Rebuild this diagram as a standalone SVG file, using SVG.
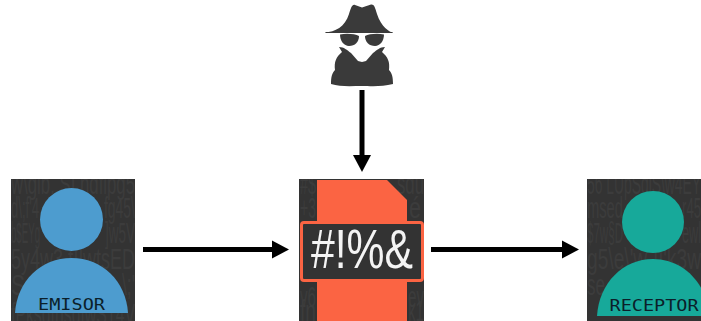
<svg xmlns="http://www.w3.org/2000/svg" width="701" height="321" viewBox="0 0 701 321">
<style>
.panel{fill:#333333}
.bg{font-family:"Liberation Sans",sans-serif;font-size:30px;fill:#3c3c3c}
.lab{font-family:"DejaVu Sans Mono","Liberation Mono",monospace;font-size:16px;fill:#0b1f2a;text-anchor:middle}
.line{stroke:#000;stroke-width:5;fill:none}
</style>
<defs>
<clipPath id="cl"><rect x="11" y="179" width="124" height="142"/></clipPath>
<clipPath id="cc"><rect x="299" y="179" width="125" height="142"/></clipPath>
<clipPath id="cr"><rect x="587" y="179" width="114" height="142"/></clipPath>
</defs>
<rect width="701" height="321" fill="#fff"/>
<g id="emisor">
<rect class="panel" x="11" y="179" width="124" height="142"/>
<g clip-path="url(#cl)" class="bg">
<text x="11" y="194" textLength="124" lengthAdjust="spacingAndGlyphs">w\gib..SI ndflpg5</text>
<text x="11" y="218" textLength="28" lengthAdjust="spacingAndGlyphs">d\;f'4</text>
<text x="104" y="218" textLength="31" lengthAdjust="spacingAndGlyphs">fg45\</text>
<text x="11" y="243" textLength="29" lengthAdjust="spacingAndGlyphs">b$EYg</text>
<text x="105" y="243" textLength="30" lengthAdjust="spacingAndGlyphs">]w5V</text>
<text x="11" y="269" textLength="124" lengthAdjust="spacingAndGlyphs">5y4w3 f]]wtsED</text>
<text x="11" y="295" textLength="14" lengthAdjust="spacingAndGlyphs">S</text>
<text x="122" y="295" textLength="13" lengthAdjust="spacingAndGlyphs">\;'</text>
<text x="11" y="324" textLength="124" lengthAdjust="spacingAndGlyphs">fPksdfnsdfwS14V</text>
</g>
<circle cx="71.500" cy="219.500" r="31.500" fill="#4d9ccf"/>
<path d="M15 313C17 281 41 258 71.500 258C102 258 126 281 128 313Z" fill="#4d9ccf"/>
<text class="lab" x="71.500" y="310" textLength="67" lengthAdjust="spacingAndGlyphs">EMISOR</text>
</g>
<g id="mensaje">
<rect class="panel" x="299" y="179" width="125" height="142"/>
<g clip-path="url(#cc)" class="bg">
<text x="300" y="194" textLength="16" lengthAdjust="spacingAndGlyphs">#$</text>
<text x="397" y="194" textLength="27" lengthAdjust="spacingAndGlyphs">sdu</text>
<text x="300" y="218" textLength="16" lengthAdjust="spacingAndGlyphs">+3</text>
<text x="409" y="218" textLength="12" lengthAdjust="spacingAndGlyphs">é</text>
<text x="300" y="307" textLength="16" lengthAdjust="spacingAndGlyphs">v6</text>
<text x="408" y="307" textLength="16" lengthAdjust="spacingAndGlyphs">ev</text>
<text x="300" y="321" textLength="16" lengthAdjust="spacingAndGlyphs">fn</text>
<text x="408" y="321" textLength="16" lengthAdjust="spacingAndGlyphs">k1</text>
</g>
<path d="M317 180H387L407 200V321H317Z" fill="#fb6443"/>
<rect x="301.500" y="222.500" width="121" height="58" rx="2.500" fill="#333333" stroke="#fb6443" stroke-width="3"/>
<text x="362" y="268" font-family="'Liberation Sans',sans-serif" font-size="56" fill="#f4f4f4" text-anchor="middle" textLength="102" lengthAdjust="spacingAndGlyphs">#!%&amp;</text>
</g>
<g id="receptor">
<rect class="panel" x="587" y="179" width="114" height="142"/>
<g clip-path="url(#cr)" class="bg">
<text x="587" y="194" textLength="114" lengthAdjust="spacingAndGlyphs">56 LUpSdlS\w4EY</text>
<text x="587" y="218" textLength="36" lengthAdjust="spacingAndGlyphs">msed</text>
<text x="682" y="218" textLength="19" lengthAdjust="spacingAndGlyphs">r45</text>
<text x="587" y="243" textLength="36" lengthAdjust="spacingAndGlyphs">$7w§D</text>
<text x="682" y="243" textLength="19" lengthAdjust="spacingAndGlyphs">ewl</text>
<text x="587" y="269" textLength="114" lengthAdjust="spacingAndGlyphs">g5\e\'w ]]'k3w</text>
<text x="587" y="295" textLength="18" lengthAdjust="spacingAndGlyphs">se</text>
</g>
<circle cx="653" cy="222" r="31" fill="#17a99a"/>
<path d="M597 316C599 283 623 259 653 259C683 259 707 283 709 316Z" fill="#17a99a"/>
<text class="lab" x="654" y="311" textLength="89" lengthAdjust="spacingAndGlyphs">RECEPTOR</text>
</g>
<g id="espia" fill="#3a3a3a">
<path d="M325 32.500C335 32 345 27 349 14C351 8 352 4 355 5L362 7.500L371 4.500C374 4 375 7 377 14C381 27 390 32 392 32.500L393 33H331Z"/>
<path d="M325 32H392L393 33H326Z"/>
<path d="M340 34.500C347 33 355 34 359 36C359 42 355 46 349 46C344 46 340 41 340 34.500Z"/>
<path d="M384 34.500C377 33 369 34 365 36C365 42 369 46 375 46C380 46 384 41 384 34.500Z"/>
<path d="M339 47C344 47 347 50 351 53L358 61L362 62L366 61L373 53C377 50 380 47 385 47L382 52C388 57 390 62 389 70C392 73 393 77 393 84C382 87 370 86 362 86C352 86 340 87 331 84C331 77 332 73 335 70C334 62 336 57 342 52Z"/>
</g>
<g id="conectores">
<path class="line" d="M143 249.500H275"/>
<path d="M272 240.500L289 249.500L272 258.500Z"/>
<path class="line" d="M431 249.500H565"/>
<path d="M562 240.500L579 249.500L562 258.500Z"/>
<path class="line" d="M362 90V158"/>
<path d="M353 155L362 172L371 155Z"/>
</g>
</svg>
